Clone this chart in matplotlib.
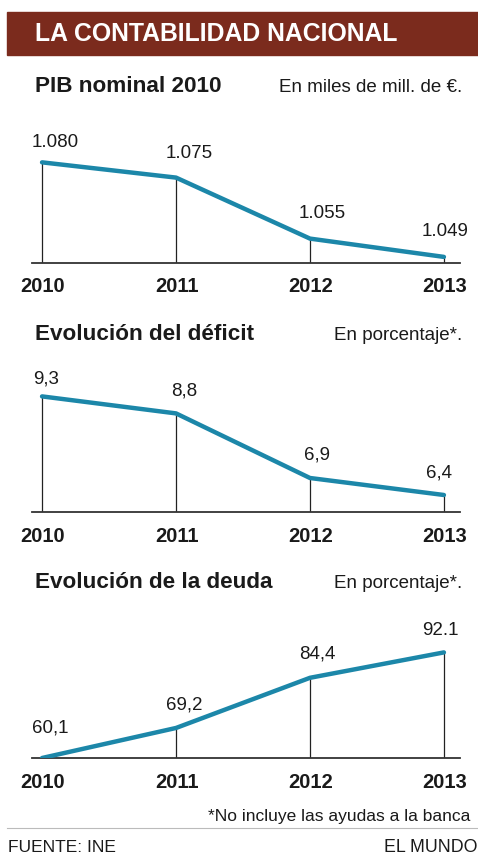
import matplotlib.pyplot as plt
from matplotlib.patches import Rectangle
from matplotlib import font_manager

# --- Datos ---
years = ["2010", "2011", "2012", "2013"]

pib = [1080, 1075, 1055, 1049]
pib_labels = ["1.080", "1.075", "1.055", "1.049"]

deficit = [9.3, 8.8, 6.9, 6.4]
deficit_labels = ["9,3", "8,8", "6,9", "6,4"]

deuda = [60.1, 69.2, 84.4, 92.1]
deuda_labels = ["60,1", "69,2", "84,4", "92.1"]

# --- Estilo ---
W, H = 478, 858
DPI = 100
LINE = "#1c87a9"
BAR = "#7b2b1d"

names = {f.name for f in font_manager.fontManager.ttflist}
NARROW = "Liberation Sans Narrow" if "Liberation Sans Narrow" in names else "Liberation Sans"
SANS = "Liberation Sans"

fig = plt.figure(figsize=(W / DPI, H / DPI), dpi=DPI)
fig.patch.set_facecolor("white")


def fx(px):
    return px / W


def fy(py):
    return 1 - py / H


# cabecera
fig.patches.append(Rectangle((fx(7), fy(55)), fx(478 - 7), (55 - 12) / H,
                             transform=fig.transFigure, color=BAR, zorder=0))
fig.text(fx(35), fy(34), "LA CONTABILIDAD NACIONAL", color="white",
         fontsize=17.8, fontweight="bold", family=NARROW, va="center", ha="left")


def panel(values, labels, title, subtitle, title_y, base_y, top_y, ylim, offsets):
    fig.text(fx(35), fy(title_y), title, fontsize=16.2, fontweight="bold",
             family=NARROW, va="center", ha="left", color="#1a1a1a")
    fig.text(fx(462), fy(title_y + 1), subtitle, fontsize=13.5, family=SANS,
             va="center", ha="right", color="#1a1a1a")

    ax = fig.add_axes([fx(32), fy(base_y), fx(460 - 32), (base_y - top_y) / H])
    ax.set_xlim(-0.075, 3.12)
    ax.set_ylim(*ylim)
    ax.axis("off")

    x = range(len(values))
    # líneas verticales hasta la base
    ax.vlines(x, ylim[0], values, color="#222222", lw=0.9, zorder=1)
    ax.axhline(ylim[0], color="#333333", lw=1.3, zorder=1, clip_on=False)
    ax.plot(x, values, color=LINE, lw=3.2, solid_capstyle="round",
            solid_joinstyle="round", zorder=2)

    for i, (v, lab) in enumerate(zip(values, labels)):
        dx, dy = offsets[i]
        ax.annotate(lab, (i, v), xytext=(dx, dy), textcoords="offset pixels",
                    ha="center", va="center", fontsize=13.5, family=NARROW,
                    color="#1a1a1a")
        ax.annotate(years[i], (i, ylim[0]), xytext=(1, -24), textcoords="offset pixels",
                    ha="center", va="center", fontsize=14.5, fontweight="bold",
                    family=NARROW, color="#1a1a1a", annotation_clip=False)
    return ax


panel(pib, pib_labels, "PIB nominal 2010", "En miles de mill. de €.",
      87, 263, 120, (1047, 1047 + 143 / 3.05),
      [(13, 20), (13, 24), (12, 25), (1, 25)])

panel(deficit, deficit_labels, "Evolución del déficit", "En porcentaje*.",
      335, 512, 370, (5.9, 5.9 + 142 / 34),
      [(4, 17), (8, 22), (7, 23), (-5, 22)])

panel(deuda, deuda_labels, "Evolución de la deuda", "En porcentaje*.",
      582, 758, 615, (60.1, 60.1 + 143 / 3.3),
      [(8, 30), (8, 23), (7, 24), (-4, 22)])

# notas al pie
fig.text(fx(470), fy(817), "*No incluye las ayudas a la banca", fontsize=12.5,
         family=SANS, ha="right", va="center", color="#1a1a1a")
fig.add_artist(plt.Line2D([fx(7), fx(478)], [fy(828), fy(828)],
                          transform=fig.transFigure, color="#bbbbbb", lw=0.8))
fig.text(fx(8), fy(848), "FUENTE: INE", fontsize=12.5, family=SANS,
         ha="left", va="center", color="#1a1a1a")
fig.text(fx(478), fy(848), "EL MUNDO", fontsize=12.8, family=SANS,
         ha="right", va="center", color="#1a1a1a")

fig.savefig("out.png", dpi=DPI, facecolor="white")
